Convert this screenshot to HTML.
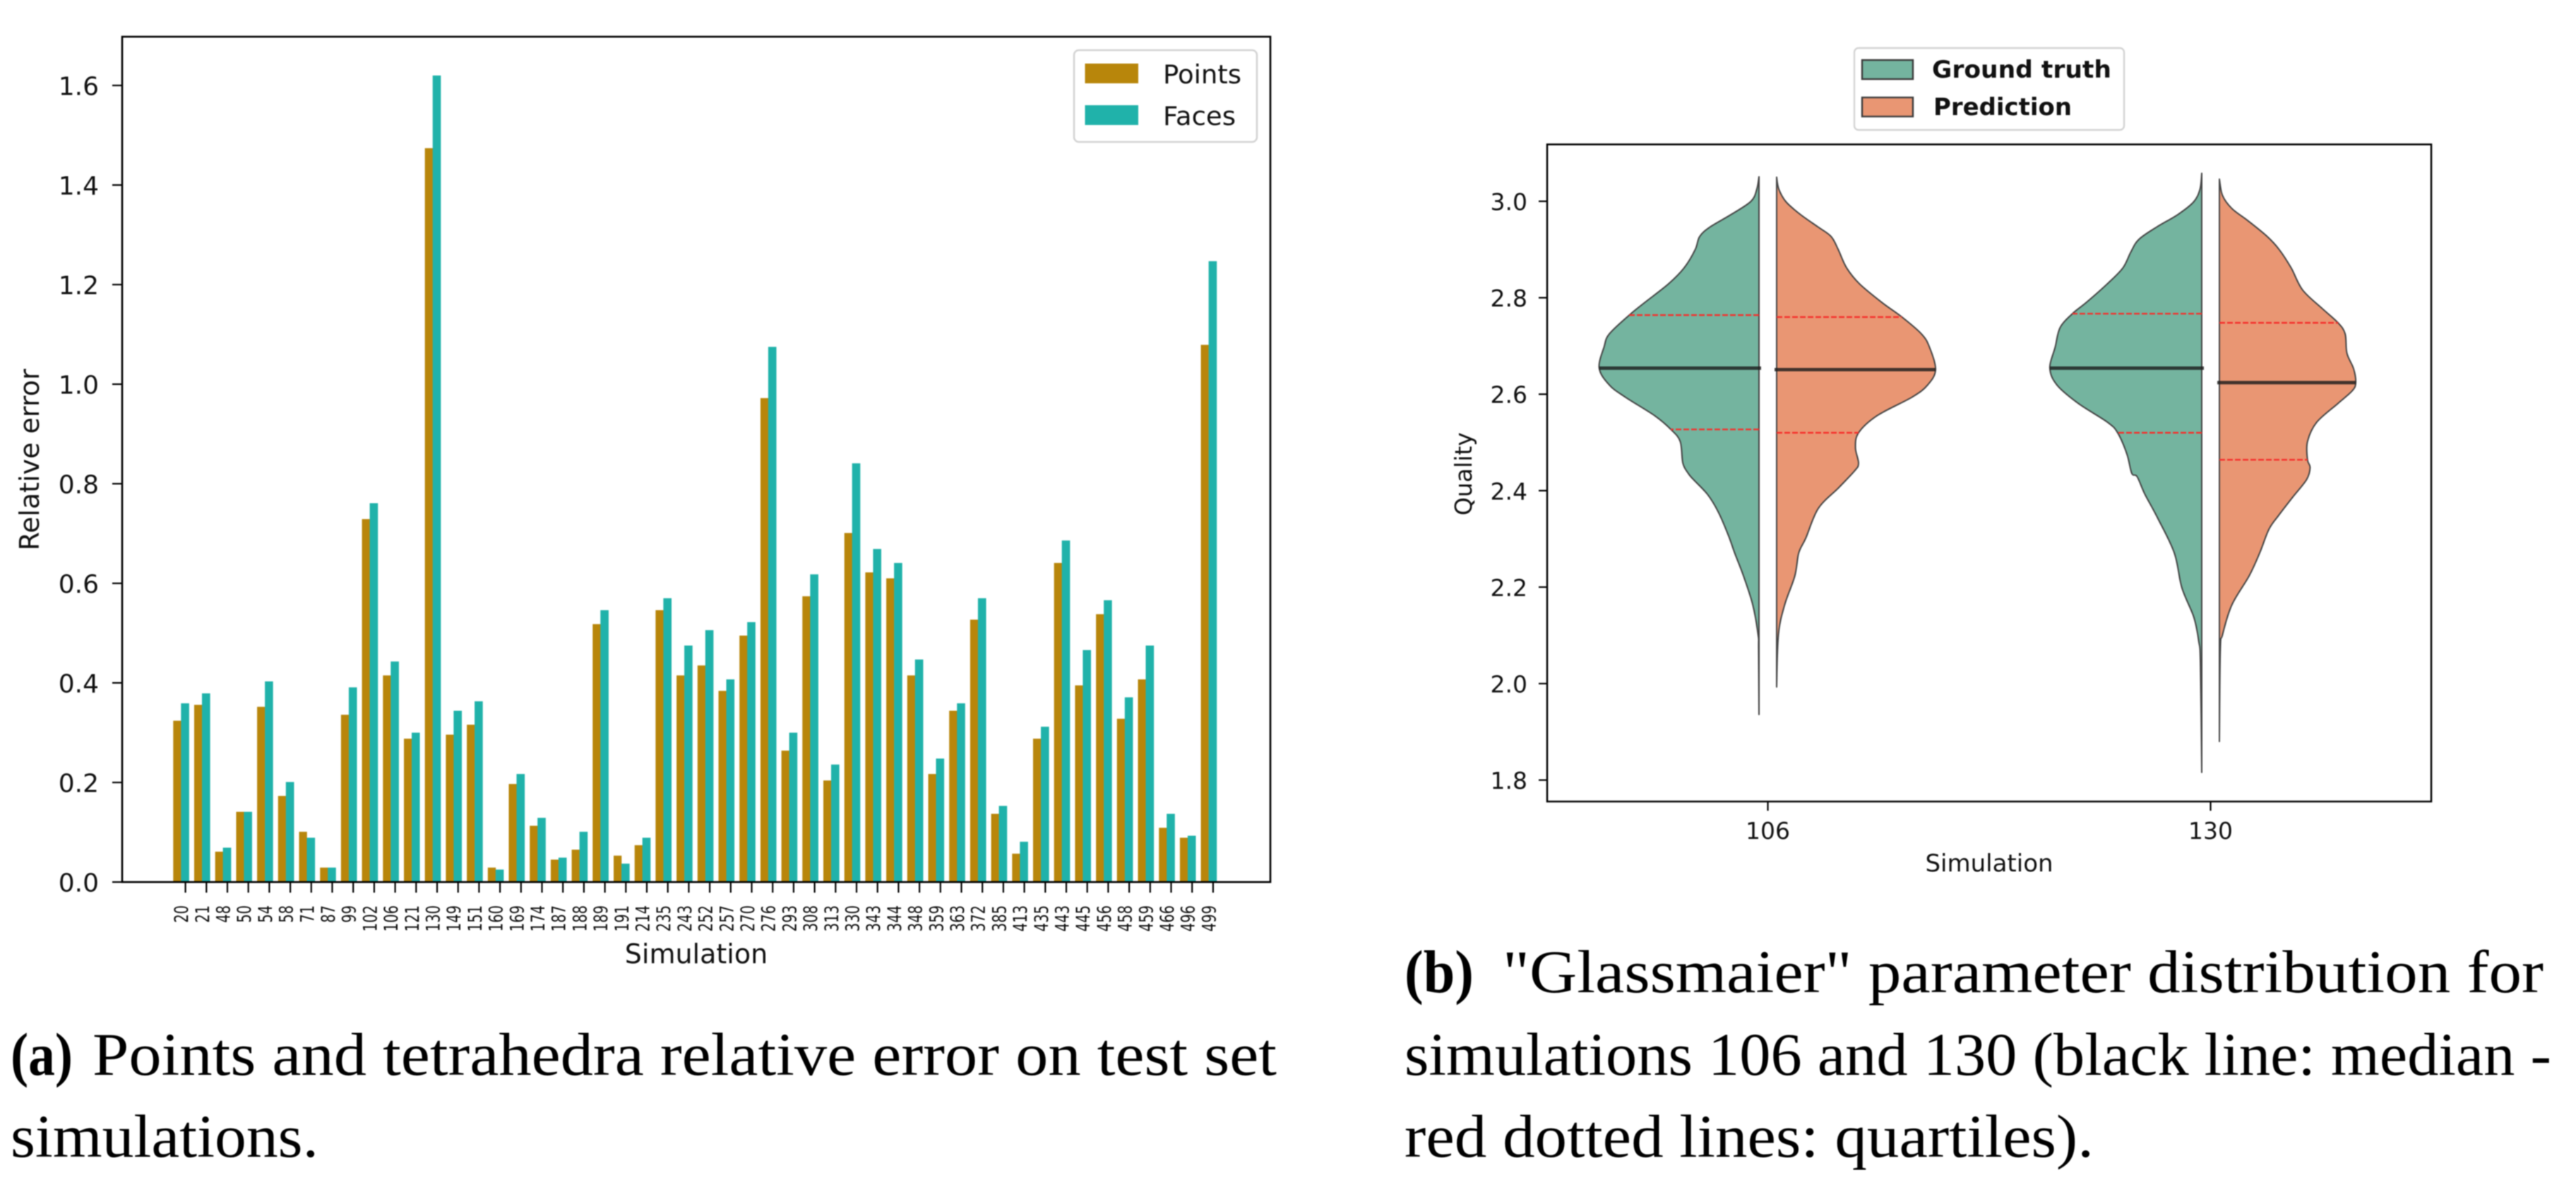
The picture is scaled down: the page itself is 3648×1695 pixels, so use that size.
<!DOCTYPE html>
<html lang="en">
<head>
<meta charset="utf-8">
<title>Relative error and Glassmaier parameter distribution</title>
<style>
html,body{margin:0;padding:0;background:#fff;width:3648px;height:1695px;overflow:hidden}
svg{display:block;position:absolute;left:0;top:0;filter:blur(0.7px)}
text{font-family:"DejaVu Sans","Liberation Sans",sans-serif;fill:#111}
.cap{font-family:"Liberation Serif",serif;font-size:86px;fill:#000}
</style>
</head>
<body>
<svg id="figure" xmlns="http://www.w3.org/2000/svg" width="3648" height="1695" viewBox="0 0 3648 1695">
  <g id="chart-a"></g>
  <g id="chart-b"></g>
  <text class="cap" x="15" y="1522" font-weight="bold" textLength="88" lengthAdjust="spacingAndGlyphs" style="font-weight:bold">(a)</text>
  <text class="cap" x="131" y="1522" textLength="1677" lengthAdjust="spacingAndGlyphs">Points and tetrahedra relative error on test set</text>
  <text class="cap" x="15" y="1638" textLength="436" lengthAdjust="spacingAndGlyphs">simulations.</text>
  <text class="cap" x="1989" y="1405" textLength="98" lengthAdjust="spacingAndGlyphs" style="font-weight:bold">(b)</text>
  <text class="cap" x="2128" y="1405" textLength="1474" lengthAdjust="spacingAndGlyphs">"Glassmaier" parameter distribution for</text>
  <text class="cap" x="1989" y="1522" textLength="1624" lengthAdjust="spacingAndGlyphs">simulations 106 and 130 (black line: median -</text>
  <text class="cap" x="1989" y="1638" textLength="976" lengthAdjust="spacingAndGlyphs">red dotted lines: quartiles).</text>
</svg>
<script>
/* ---------- bar chart data ---------- */
const simulations = [20,21,48,50,54,58,71,87,99,102,106,121,130,149,151,160,169,174,187,188,189,191,214,235,243,252,257,270,276,293,308,313,330,343,344,348,359,363,372,385,413,435,443,445,456,458,459,466,496,499];
const pointsError = [.324,.356,.061,.141,.352,.173,.101,.029,.336,.729,.415,.288,1.474,.296,.316,.029,.197,.113,.045,.065,.518,.053,.074,.546,.415,.435,.384,.495,.972,.264,.574,.204,.701,.622,.610,.415,.217,.344,.527,.137,.057,.288,.641,.395,.538,.328,.407,.109,.089,1.079];
const facesError = [.359,.379,.069,.141,.403,.201,.089,.029,.391,.761,.443,.300,1.620,.344,.363,.025,.217,.129,.049,.101,.546,.037,.089,.570,.475,.506,.407,.522,1.075,.300,.618,.236,.841,.669,.641,.447,.248,.359,.570,.153,.081,.312,.686,.466,.566,.371,.475,.137,.093,1.247];
const errorTicks = ["0.0","0.2","0.4","0.6","0.8","1.0","1.2","1.4","1.6"];

/* ---------- violin chart data ---------- */
const violinSimulations = ["106","130"];
const qualityTicks = ["1.8","2.0","2.2","2.4","2.6","2.8","3.0"];
const truth106Quality = [3.051,3.025,3.0,2.973,2.947,2.927,2.9,2.862,2.829,2.79,2.764,2.725,2.698,2.654,2.619,2.594,2.555,2.527,2.502,2.457,2.436,2.423,2.392,2.356,2.307,2.271,2.223,2.163,2.101,2.072,1.936];
const truth106Density = [0,.005,.018,.062,.11,.134,.144,.169,.204,.258,.293,.338,.35,.361,.338,.302,.235,.199,.178,.172,.16,.148,.116,.092,.069,.055,.035,.014,.002,.001,0];
const pred106Quality = [3.05,3.025,2.999,2.973,2.947,2.927,2.9,2.862,2.829,2.79,2.76,2.725,2.698,2.651,2.619,2.594,2.555,2.52,2.489,2.457,2.441,2.406,2.363,2.302,2.271,2.223,2.163,2.101,1.993];
const pred106Density = [0,.005,.021,.053,.093,.123,.139,.158,.187,.238,.283,.327,.345,.359,.341,.306,.226,.185,.178,.185,.176,.14,.094,.066,.05,.041,.018,.004,0];
const truth130Quality = [3.058,3.025,2.999,2.973,2.947,2.921,2.895,2.862,2.829,2.79,2.767,2.738,2.698,2.654,2.619,2.581,2.542,2.52,2.476,2.436,2.429,2.392,2.344,2.271,2.199,2.138,2.089,2.041,1.816];
const truth130Density = [0,.004,.018,.053,.101,.142,.16,.178,.213,.261,.292,.32,.331,.343,.327,.279,.213,.19,.169,.158,.146,.128,.1,.062,.045,.018,.007,.003,0];
const pred130Quality = [3.046,3.012,2.985,2.96,2.927,2.9,2.862,2.816,2.777,2.748,2.725,2.685,2.653,2.624,2.607,2.581,2.542,2.502,2.464,2.448,2.423,2.386,2.35,2.32,2.271,2.223,2.163,2.101,2.07,1.88];
const pred130Density = [0,.007,.028,.064,.108,.135,.162,.188,.233,.268,.284,.288,.303,.308,.3,.268,.22,.199,.199,.205,.197,.165,.135,.112,.091,.067,.028,.007,.002,0];
const medians = [2.654,2.651,2.654,2.624];
const lowerQuartiles = [2.527,2.52,2.52,2.464];
const upperQuartiles = [2.764,2.76,2.767,2.748];

/* ---------- helpers ---------- */
const NS = "http://www.w3.org/2000/svg";
function mk(parent, tag, attrs, txt) {
  const el = document.createElementNS(NS, tag);
  for (const k in attrs) el.setAttribute(k, attrs[k]);
  if (txt !== undefined) el.textContent = txt;
  parent.appendChild(el);
  return el;
}
/* smooth curve through outline points, closed by the straight violin edge */
function smoothPath(pts) {
  let d = "M" + pts[0][0].toFixed(1) + "," + pts[0][1].toFixed(1);
  for (let i = 0; i < pts.length - 1; i++) {
    const p0 = pts[Math.max(0, i - 1)], p1 = pts[i], p2 = pts[i + 1], p3 = pts[Math.min(pts.length - 1, i + 2)];
    const c1x = p1[0] + (p2[0] - p0[0]) / 6, c1y = p1[1] + (p2[1] - p0[1]) / 6;
    const c2x = p2[0] - (p3[0] - p1[0]) / 6, c2y = p2[1] - (p3[1] - p1[1]) / 6;
    d += "C" + c1x.toFixed(1) + "," + c1y.toFixed(1) + " " + c2x.toFixed(1) + "," + c2y.toFixed(1) + " " + p2[0].toFixed(1) + "," + p2[1].toFixed(1);
  }
  return d + "Z";
}

/* ---------- chart A ---------- */
const gA = document.getElementById("chart-a");
const A = {left:173, right:1799, top:52, bottom:1249};
const yA = v => A.bottom - v * 705;
const xA = i => 262.6 + i * 29.7;
const barW = 11.3;

simulations.forEach(function (sim, i) {
  const hp = yA(0) - yA(pointsError[i]);
  const p = mk(gA, "rect", {x: xA(i) - 2 * barW + 5.3, y: yA(pointsError[i]), width: barW, height: hp, fill: "#b8860b"});
  
  
  const hf = yA(0) - yA(facesError[i]);
  const f = mk(gA, "rect", {x: xA(i) - barW + 5.3 - 0.3, y: yA(facesError[i]), width: barW + 0.3, height: hf, fill: "#20b2aa"});
  
  

  const t = mk(gA, "line", {x1: xA(i), x2: xA(i), y1: A.bottom, y2: A.bottom + 15, stroke: "#000", "stroke-width": 2.2});
  
  
  const l = mk(gA, "text", {transform: "translate(" + (xA(i) + 3.5) + ",1282) rotate(-90) scale(1,1.35)", "text-anchor": "end", "font-size": 19.5, fill: "#222"}, String(sim));
  
  
});

errorTicks.forEach(function (lab) {
  const v = parseFloat(lab);
  const t = mk(gA, "line", {x1: A.left - 14, x2: A.left, y1: yA(v), y2: yA(v), stroke: "#000", "stroke-width": 2.2});
  
  
  const l = mk(gA, "text", {x: 140, y: yA(v) + 13.5, "text-anchor": "end", "font-size": 36}, lab);
  
  
});

const frameA = mk(gA, "rect", {x: A.left, y: A.top, width: A.right - A.left, height: A.bottom - A.top, fill: "none", stroke: "#000", "stroke-width": 2.6});



const xtA = mk(gA, "text", {x: 986, y: 1364, "text-anchor": "middle", "font-size": 38}, "Simulation");


const ytA = mk(gA, "text", {transform: "translate(55,651) rotate(-90)", "text-anchor": "middle", "font-size": 38}, "Relative error");



const legA = mk(gA, "g", {});


mk(legA, "rect", {x: 1521, y: 71, width: 259, height: 130, rx: 7, fill: "#fff", stroke: "#d4d4d4", "stroke-width": 2.6});
const sw1 = mk(legA, "rect", {x: 1536.5, y: 90, width: 75.5, height: 28, fill: "#b8860b"});


const lt1 = mk(legA, "text", {x: 1647, y: 118, "font-size": 36.5, textLength: 111, lengthAdjust: "spacingAndGlyphs"}, "Points");


const sw2 = mk(legA, "rect", {x: 1536.5, y: 149, width: 75.5, height: 28, fill: "#20b2aa"});


const lt2 = mk(legA, "text", {x: 1647, y: 177, "font-size": 36.5, textLength: 103, lengthAdjust: "spacingAndGlyphs"}, "Faces");



/* ---------- chart B ---------- */
const gB = document.getElementById("chart-b");
const B = {left:2191, right:3443, top:204.5, bottom:1135};
const yB = v => 285 + (3 - v) * 683;
const xB = i => 2503.5 + i * 627;
const UNIT = 627, GAP = 12.5;
const GREEN = "#74b49f", ORANGE = "#e99673";

function densityAt(q, qs, ds) {
  for (let i = 0; i < qs.length - 1; i++) {
    if (q <= qs[i] && q >= qs[i + 1]) {
      const t = (qs[i] - q) / (qs[i] - qs[i + 1]);
      return ds[i] + t * (ds[i + 1] - ds[i]);
    }
  }
  return 0;
}

const halves = [
  {name: "truth-106", cat: 0, side: -1, q: truth106Quality, d: truth106Density, fill: GREEN, idx: 0},
  {name: "prediction-106", cat: 0, side: 1, q: pred106Quality, d: pred106Density, fill: ORANGE, idx: 1},
  {name: "truth-130", cat: 1, side: -1, q: truth130Quality, d: truth130Density, fill: GREEN, idx: 2},
  {name: "prediction-130", cat: 1, side: 1, q: pred130Quality, d: pred130Density, fill: ORANGE, idx: 3}
];

halves.forEach(function (h) {
  const edge = xB(h.cat) + h.side * GAP;
  const pts = h.q.map((q, i) => [edge + h.side * h.d[i] * UNIT, yB(q)]);
  const shape = mk(gB, "path", {d: smoothPath(pts), fill: h.fill, stroke: "#444", "stroke-width": 2, "stroke-linejoin": "round"});
  
  

  [lowerQuartiles[h.idx], upperQuartiles[h.idx]].forEach(function (q, k) {
    const qx = edge + h.side * densityAt(q, h.q, h.d) * UNIT;
    const ql = mk(gB, "line", {x1: edge, x2: qx, y1: yB(q), y2: yB(q), stroke: "#f5302c", "stroke-width": 2.4, "stroke-dasharray": "8 3"});
    
    
  });

  const m = medians[h.idx];
  const mx = edge + h.side * densityAt(m, h.q, h.d) * UNIT;
  const ml = mk(gB, "line", {x1: edge - h.side * 3, x2: mx, y1: yB(m), y2: yB(m), stroke: "#1c1c1c", "stroke-opacity": .82, "stroke-width": 4.8});
  
  
});

qualityTicks.forEach(function (lab) {
  const v = parseFloat(lab);
  const t = mk(gB, "line", {x1: B.left - 12, x2: B.left, y1: yB(v), y2: yB(v), stroke: "#000", "stroke-width": 2.2});
  
  
  const l = mk(gB, "text", {x: 2163, y: yB(v) + 12.5, "text-anchor": "end", "font-size": 33}, lab);
  
  
});

violinSimulations.forEach(function (sim, i) {
  const t = mk(gB, "line", {x1: xB(i), x2: xB(i), y1: B.bottom, y2: B.bottom + 13, stroke: "#000", "stroke-width": 2.2});
  
  
  const l = mk(gB, "text", {x: xB(i), y: 1188, "text-anchor": "middle", "font-size": 33}, sim);
  
  
});

const frameB = mk(gB, "rect", {x: B.left, y: B.top, width: B.right - B.left, height: B.bottom - B.top, fill: "none", stroke: "#000", "stroke-width": 2.5});



const xtB = mk(gB, "text", {x: 2817, y: 1234, "text-anchor": "middle", "font-size": 34}, "Simulation");


const ytB = mk(gB, "text", {transform: "translate(2084,671) rotate(-90)", "text-anchor": "middle", "font-size": 33}, "Quality");



const legB = mk(gB, "g", {});


mk(legB, "rect", {x: 2626, y: 68, width: 382, height: 116, rx: 6, fill: "#fff", stroke: "#d4d4d4", "stroke-width": 2.4});
const swB1 = mk(legB, "rect", {x: 2637, y: 85, width: 72, height: 27, fill: GREEN, stroke: "#3d3d3d", "stroke-width": 2.4});


const ltB1 = mk(legB, "text", {x: 2736, y: 110, "font-size": 34, "font-weight": "bold", fill: "#000", textLength: 254, lengthAdjust: "spacingAndGlyphs"}, "Ground truth");


const swB2 = mk(legB, "rect", {x: 2637, y: 138, width: 72, height: 27, fill: ORANGE, stroke: "#3d3d3d", "stroke-width": 2.4});


const ltB2 = mk(legB, "text", {x: 2738, y: 163, "font-size": 34, "font-weight": "bold", fill: "#000", textLength: 196, lengthAdjust: "spacingAndGlyphs"}, "Prediction");


</script>
</body>
</html>
